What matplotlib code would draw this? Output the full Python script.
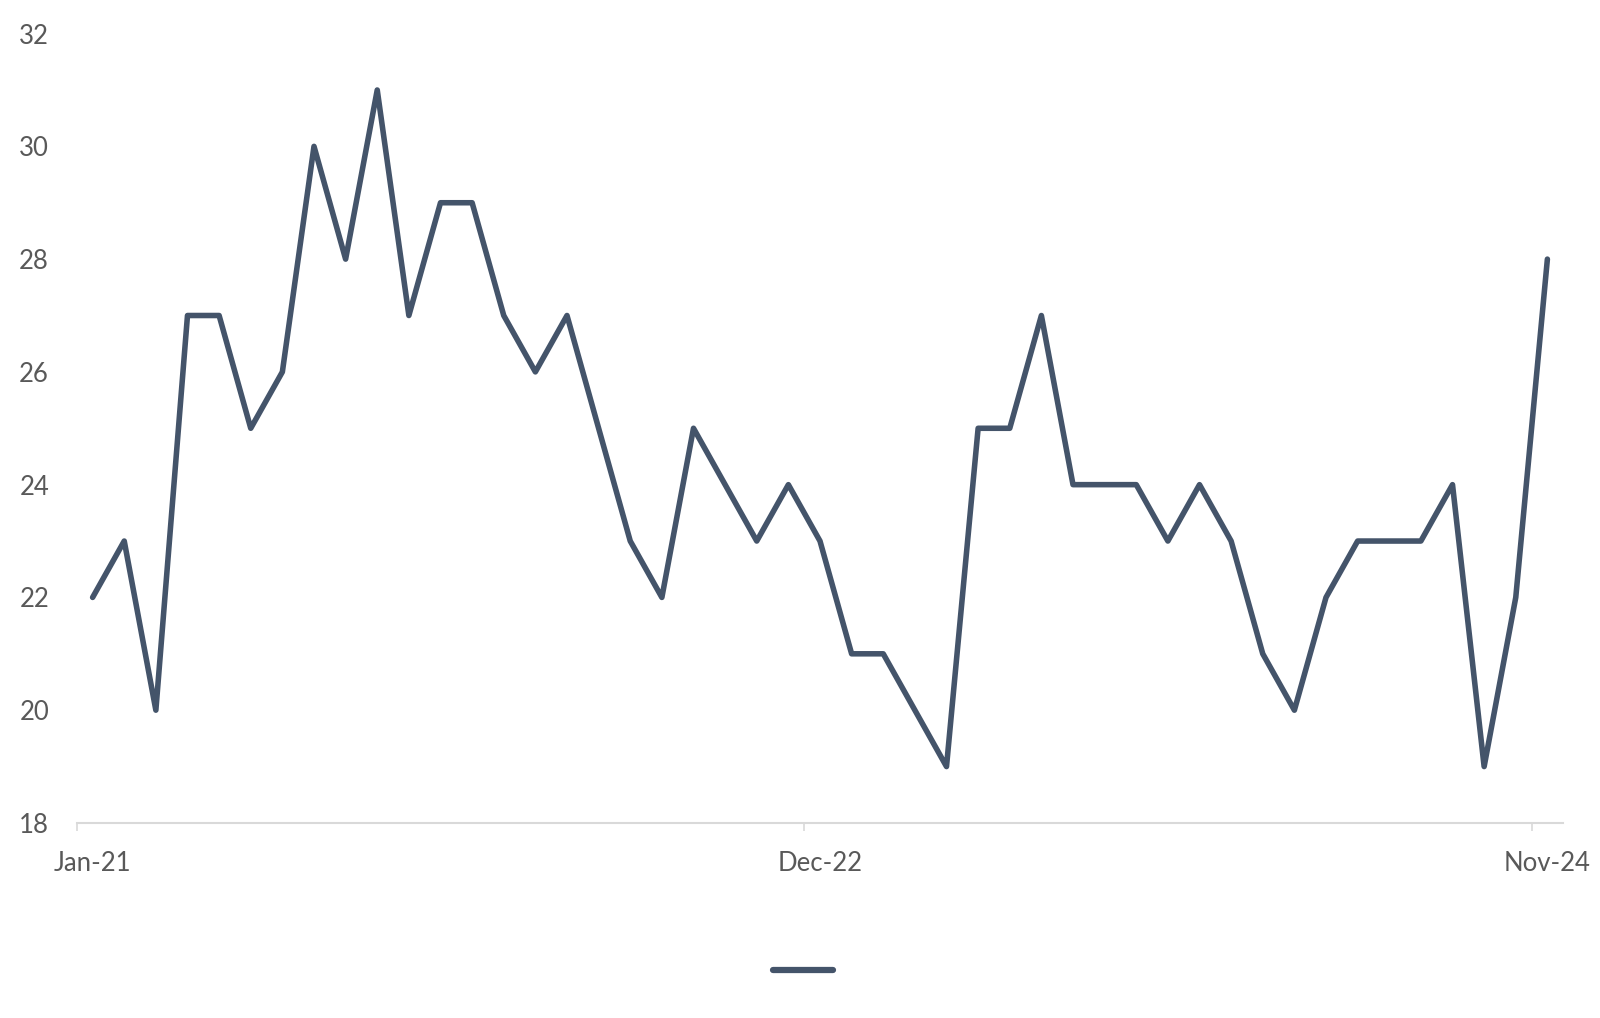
import numpy as np
import matplotlib
matplotlib.use('Agg')
import matplotlib.pyplot as plt

plt.rcParams['font.family'] = ['Lato', 'DejaVu Sans']

# monthly values Jan-21 .. Nov-24
values = [22, 23, 20, 27, 27, 25, 26, 30, 28, 31, 27, 29, 29, 27, 26, 27,
          25, 23, 22, 25, 24, 23, 24, 23, 21, 21, 20, 19, 25, 25, 27, 24,
          24, 24, 23, 24, 23, 21, 20, 22, 23, 23, 23, 24, 19, 22, 28]
tick_labels = ['Jan-21', 'Dec-22', 'Nov-24']
label_pos = [0, 23, 46]
y_ticks = [18, 20, 22, 24, 26, 28, 30, 32]

line_color = '#44546A'
grey = '#D9D9D9'
text_color = '#595959'

fig = plt.figure(figsize=(16, 10.18), dpi=100)
ax = fig.add_axes([0.048, 0.1916, 0.929, 0.7754])

x = np.arange(len(values))
line, = ax.plot(x, values, color=line_color, lw=4.0, solid_joinstyle='round',
                solid_capstyle='round')

ax.set_xlim(-0.5, len(values) - 0.5)
ax.set_ylim(18, 32)
ax.set_yticks(y_ticks)
ax.set_yticklabels([str(v) for v in y_ticks])

# tick marks between categories, labels on categories
ax.set_xticks([-0.5, 22.5, 45.5])
ax.set_xticklabels(['', '', ''])
ax.set_xticks(label_pos, minor=True)
ax.set_xticklabels(tick_labels, minor=True)
ax.tick_params(axis='x', which='major', length=6, width=1.2, color=grey)
ax.tick_params(axis='x', which='minor', length=0, pad=20, labelsize=18.5,
               labelcolor=text_color)
ax.tick_params(axis='y', length=0, pad=20, labelsize=18.5, labelcolor=text_color)

for s in ['top', 'right', 'left']:
    ax.spines[s].set_visible(False)
ax.spines['bottom'].set_color(grey)
ax.spines['bottom'].set_linewidth(1.5)

leg_line, = plt.plot([], [], color=line_color, lw=4.5, solid_capstyle='round')
fig.legend([leg_line], [''], loc='center', bbox_to_anchor=(0.502, 0.045),
           frameon=False, handlelength=2.55, handletextpad=0, fontsize=17)

fig.savefig('out.png', dpi=100, facecolor='white')
